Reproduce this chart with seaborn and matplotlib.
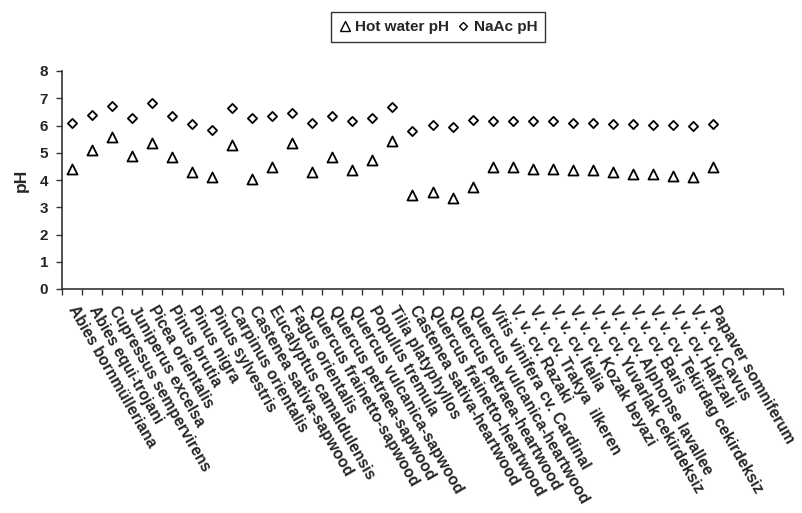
import numpy as np
import pandas as pd
import matplotlib
matplotlib.use("Agg")
import matplotlib.pyplot as plt
import seaborn as sns
from matplotlib.lines import Line2D
from matplotlib.ticker import FixedLocator

species = [
    "Abies bornmülleriana", "Abies equi-trojani", "Cupressus sempervirens",
    "Juniperus excelsa", "Picea orientalis", "Pinus brutia", "Pinus nigra",
    "Pinus sylvestris", "Carpinus orientalis", "Castenea sativa-sapwood",
    "Eucalyptus camaldulensis", "Fagus orientalis", "Quercus frainetto-sapwood",
    "Quercus petraea-sapwood", "Quercus vulcanica-sapwood", "Populus tremula",
    "Tilia platyphyllos", "Castenea sativa-heartwood", "Quercus frainetto-heartwood",
    "Quercus petraea-heartwood", "Quercus vulcanica-heartwood",
    "Vitis vinifera cv. Cardinal", "V. v. cv. Razaki", "V. v. cv. Trakya  ilkeren",
    "V. v. cv. Italia", "V. v. cv. Kozak beyazi", "V. v. cv. Yuvarlak cekirdeksiz",
    "V. v. cv. Alphonse lavallee", "V. v. cv. Baris", "V. v. cv. Tekirdag cekirdeksiz",
    "V. v. cv. Hafizali", "V. v. cv. Cavus", "Papaver somniferum",
]
# three empty category slots at the right end of the axis
n_slots = len(species) + 3

hot_water_ph = [4.40, 5.09, 5.56, 4.87, 5.34, 4.84, 4.29, 4.11, 5.27, 4.05,
                4.49, 5.34, 4.29, 4.85, 4.38, 4.73, 5.43, 3.46, 3.57, 3.35,
                3.75, 4.46, 4.46, 4.41, 4.41, 4.36, 4.36, 4.30, 4.22, 4.22,
                4.16, 4.11, 4.46]
naac_ph = [6.10, 6.39, 6.71, 6.28, 6.83, 6.34, 6.06, 5.84, 6.66, 6.28,
           6.34, 6.45, 6.10, 6.34, 6.17, 6.28, 6.67, 5.79, 6.01, 5.95,
           6.22, 6.17, 6.17, 6.17, 6.17, 6.10, 6.10, 6.06, 6.06, 6.01,
           6.01, 5.97, 6.07]

df = pd.DataFrame({
    "pos": list(range(len(species))) * 2,
    "pH": hot_water_ph + naac_ph,
    "measure": ["Hot water pH"] * len(species) + ["NaAc pH"] * len(species),
})

sns.set_style("white")
plt.rcParams["font.family"] = ["Liberation Sans", "DejaVu Sans"]

fig = plt.figure(figsize=(8.03, 5.13), dpi=100)
ax = fig.add_axes([62 / 803, 1 - 289 / 513, 721 / 803, 218 / 513])

# two series, open markers
sns.scatterplot(data=df[df.measure == "Hot water pH"], x="pos", y="pH",
                marker="^", s=52, facecolor="white", edgecolor="black",
                linewidth=1.3, ax=ax, legend=False)
sns.scatterplot(data=df[df.measure == "NaAc pH"], x="pos", y="pH",
                marker="D", s=22, facecolor="white", edgecolor="black",
                linewidth=1.3, ax=ax, legend=False)

ax.set_xlim(-0.5, n_slots - 0.5)
ax.set_ylim(0, 8)
ax.set_yticks(range(0, 9))
ax.set_yticklabels([str(v) for v in range(0, 9)], fontsize=11, fontweight="bold")

ax.set_xticks(range(len(species)))
ax.set_xticklabels(species, rotation=-60, ha="left", va="center",
                   rotation_mode="anchor", fontsize=11.3, fontweight="bold")
ax.xaxis.set_minor_locator(FixedLocator(np.arange(-0.5, n_slots, 1.0)))
ax.tick_params(axis="x", which="major", bottom=True, length=0, pad=13)
ax.tick_params(axis="x", which="minor", bottom=True, length=4, width=1,
               color="#333333", direction="out")
ax.tick_params(axis="y", left=True, length=4, width=1, color="#333333",
               direction="out", pad=6)

for side in ["top", "right"]:
    ax.spines[side].set_visible(False)
for side in ["left", "bottom"]:
    ax.spines[side].set_color("#333333")
    ax.spines[side].set_linewidth(1.2)

ax.set_xlabel("")
ax.set_ylabel("pH", fontsize=12.5, fontweight="bold", labelpad=8)

# legend box at the top
handles = [
    Line2D([], [], marker="^", linestyle="none", markerfacecolor="white",
           markeredgecolor="black", markersize=7, markeredgewidth=1.0),
    Line2D([], [], marker="D", linestyle="none", markerfacecolor="white",
           markeredgecolor="black", markersize=4.5, markeredgewidth=1.0),
]
leg = fig.legend(handles, ["Hot water pH", "NaAc pH"], loc="center",
                 bbox_to_anchor=(438 / 803, 1 - 27 / 513), ncol=2,
                 frameon=True, fancybox=False, edgecolor="black",
                 prop={"weight": "bold", "size": 11}, handlelength=0.8,
                 handletextpad=0.3, columnspacing=0.5, borderpad=0.5)
leg.get_frame().set_linewidth(1.0)

fig.savefig("out.png", dpi=100)
